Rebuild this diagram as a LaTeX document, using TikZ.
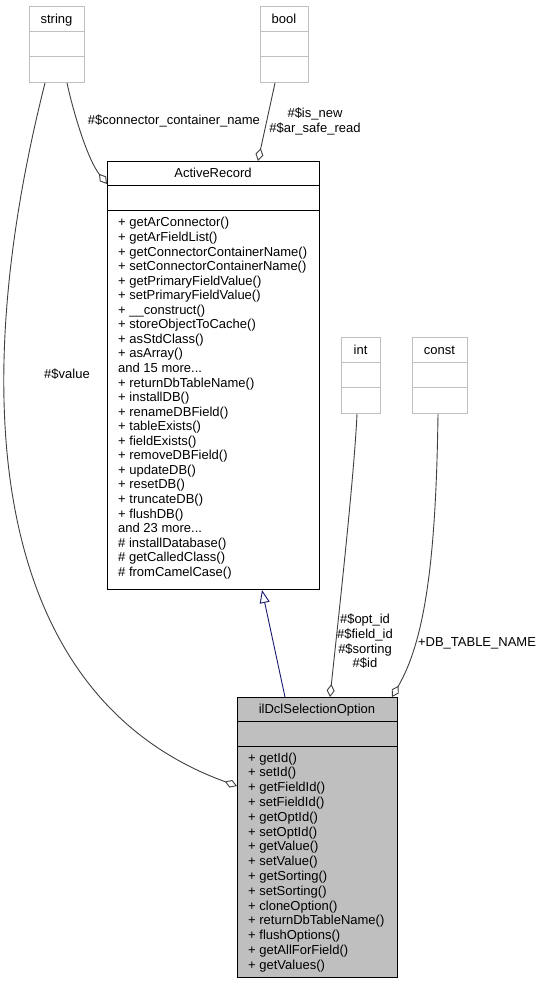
\documentclass[tikz,border=0pt]{standalone}
\usepackage{fontspec}
\setmainfont{Liberation Sans}
\usetikzlibrary{arrows.meta}
\definecolor{boxgray}{HTML}{BFBFBF}
\definecolor{edgegray}{HTML}{404040}
\definecolor{inhblue}{HTML}{191970}
\def\tdots{...}
\begin{document}
\begin{tikzpicture}[x=1pt,y=-1pt,
  font=\fontsize{13}{14}\selectfont,
  lightbox/.style={draw=boxgray, line width=1pt, fill=white, anchor=north west, inner sep=0pt},
  darkbox/.style={draw=black, line width=1pt, fill=white, anchor=north west, inner sep=0pt},
  mainbox/.style={draw=black, line width=1pt, fill=boxgray, anchor=north west, inner sep=0pt},
  lightsep/.style={draw=boxgray, line width=1pt},
  darksep/.style={draw=black, line width=1pt},
  txt/.style={anchor=base, inner sep=0pt},
  mtxt/.style={anchor=base west, inner sep=0pt},
  agg/.style={draw=edgegray, line width=0.9pt, -{Diamond[open, length=13pt, width=8pt, line width=0.9pt]}},
  inh/.style={draw=inhblue, line width=0.9pt, -{Triangle[open, length=13pt, width=10pt, line width=0.9pt]}}]
\useasboundingbox (0,0) rectangle (544,984);
\fill[white] (0,0) rectangle (544,984);

% string
\node[lightbox, minimum width=55pt, minimum height=76pt] (str) at (29,6) {};
\draw[lightsep] ([yshift=-26pt]str.north west) -- ([yshift=-26pt]str.north east);
\draw[lightsep] ([yshift=-51pt]str.north west) -- ([yshift=-51pt]str.north east);
\node[txt] (strt) at (56.5,23.5) {string};

% bool
\node[lightbox, minimum width=48pt, minimum height=76pt] (bool) at (260,6) {};
\draw[lightsep] ([yshift=-26pt]bool.north west) -- ([yshift=-26pt]bool.north east);
\draw[lightsep] ([yshift=-51pt]bool.north west) -- ([yshift=-51pt]bool.north east);
\node[txt] (boolt) at (284,23.5) {bool};

% int
\node[lightbox, minimum width=39pt, minimum height=76pt] (int) at (341,337) {};
\draw[lightsep] ([yshift=-25pt]int.north west) -- ([yshift=-25pt]int.north east);
\draw[lightsep] ([yshift=-50pt]int.north west) -- ([yshift=-50pt]int.north east);
\node[txt] (intt) at (360.5,354) {int};

% const
\node[lightbox, minimum width=55pt, minimum height=76pt] (cst) at (412,337) {};
\draw[lightsep] ([yshift=-25pt]cst.north west) -- ([yshift=-25pt]cst.north east);
\draw[lightsep] ([yshift=-50pt]cst.north west) -- ([yshift=-50pt]cst.north east);
\node[txt] (cstt) at (439.5,354) {const};

% ActiveRecord
\node[darkbox, minimum width=212pt, minimum height=428pt] (ar) at (107,161) {};
\draw[darksep] ([yshift=-25pt]ar.north west) -- ([yshift=-25pt]ar.north east);
\draw[darksep] ([yshift=-50pt]ar.north west) -- ([yshift=-50pt]ar.north east);
\node[txt] (art) at (213,178) {ActiveRecord};
\foreach \t [count=\i from 0] in {
  + getArConnector(), + getArFieldList(), + getConnectorContainerName(),
  + setConnectorContainerName(), + getPrimaryFieldValue(), + setPrimaryFieldValue(),
  + \_\_construct(), + storeObjectToCache(), + asStdClass(), + asArray(),
  and 15 more\tdots, + returnDbTableName(), + installDB(), + renameDBField(),
  + tableExists(), + fieldExists(), + removeDBField(), + updateDB(), + resetDB(),
  + truncateDB(), + flushDB(), and 23 more\tdots, \# installDatabase(),
  \# getCalledClass(), \# fromCamelCase()}
  \node[mtxt] (arm\i) at (118,227+14.55*\i) {\t};

% ilDclSelectionOption
\node[mainbox, minimum width=160pt, minimum height=280pt] (il) at (237,697) {};
\draw[darksep] ([yshift=-24pt]il.north west) -- ([yshift=-24pt]il.north east);
\draw[darksep] ([yshift=-49pt]il.north west) -- ([yshift=-49pt]il.north east);
\node[txt] (ilt) at (317,713.5) {ilDclSelectionOption};
\foreach \t [count=\i from 0] in {
  + getId(), + setId(), + getFieldId(), + setFieldId(), + getOptId(), + setOptId(),
  + getValue(), + setValue(), + getSorting(), + setSorting(), + cloneOption(),
  + returnDbTableName(), + flushOptions(), + getAllForField(), + getValues()}
  \node[mtxt] (ilm\i) at (248,762+14.8*\i) {\t};

% edges
\draw[agg] ([xshift=38pt]str.south west) .. controls (74,115) and (88,160) .. ([yshift=-23pt]ar.north west);
\draw[agg] ([xshift=15pt]bool.south west) -- ([xshift=151pt]ar.north west);
\draw[agg] ([xshift=16pt]str.south west) .. controls (-40,420) and (0,700) .. ([yshift=-89pt]il.north west);
\draw[inh] ([xshift=48pt]il.north west) -- ([xshift=155pt]ar.south west);
\draw[agg] ([xshift=16pt]int.south west) .. controls (354,480) and (336,640) .. ([xshift=93pt]il.north west);
\draw[agg] ([xshift=26pt]cst.south west) .. controls (436,560) and (425,640) .. ([xshift=155pt]il.north west);

% labels
\node[txt] (lcc) at (174,124.5) {\#\$connector\_container\_name};
\node[txt] (lnew) at (315,117.5) {\#\$is\_new};
\node[txt] (lsafe) at (315,132.5) {\#\$ar\_safe\_read};
\node[txt] (lval) at (67,378.5) {\#\$value};
\node[txt] (lopt) at (365,623.5) {\#\$opt\_id};
\node[txt] (lfld) at (365,638.5) {\#\$field\_id};
\node[txt] (lsrt) at (365,653.5) {\#\$sorting};
\node[txt] (lid) at (365,667.5) {\#\$id};
\node[txt] (ldb) at (477,646.5) {+DB\_TABLE\_NAME};
\end{tikzpicture}
\end{document}
